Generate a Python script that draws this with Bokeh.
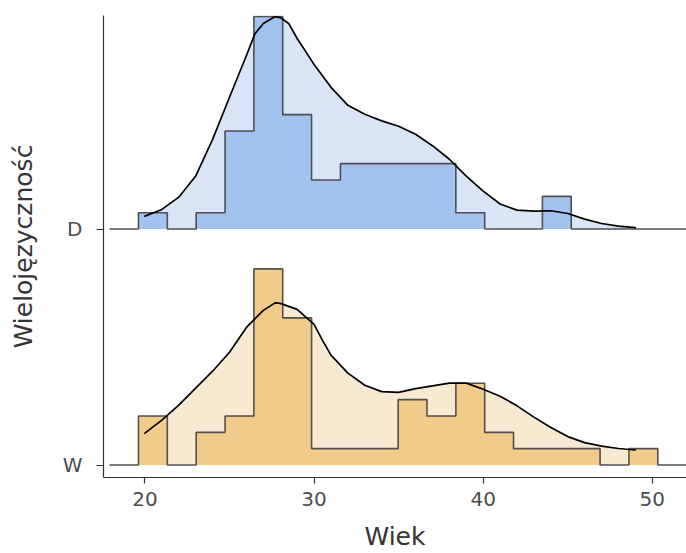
from bokeh.plotting import figure
from bokeh.models import FixedTicker, Range1d
from bokeh.embed import file_html
from bokeh.resources import INLINE

# ---- data ----
groups = ["W", "D"]
x_ticks = [20, 30, 40, 50]

bin_edges = [19.618, 21.324, 23.030, 24.736, 26.441, 28.147, 29.853, 31.559,
             33.265, 34.971, 36.677, 38.383, 40.089, 41.794, 43.500, 45.206,
             46.912, 48.618, 50.324]
pad_left = 17.912
pad_right = 52.030

counts_D = [1, 0, 1, 6, 13, 7, 3, 4, 4, 4, 4, 1, 0, 0, 2, 0, 0, 0]
counts_W = [3, 0, 2, 3, 12, 9, 1, 1, 1, 4, 3, 5, 2, 1, 1, 1, 0, 1]

dens_x_D = [20, 21, 22, 23, 24, 25, 26, 26.5, 27, 27.7, 28, 28.5, 29, 29.5, 30,
            31, 32, 33, 34, 35, 36, 37, 38, 39, 40, 41, 42, 43, 44, 45, 46, 47, 48, 49]
dens_D = [0.79, 1.20, 1.95, 3.24, 5.49, 8.06, 10.62, 11.94, 12.58, 13.00, 12.94,
          12.58, 11.66, 10.87, 10.07, 8.67, 7.57, 7.02, 6.62, 6.29, 5.80, 5.10,
          4.27, 3.24, 2.32, 1.53, 1.16, 1.10, 1.12, 0.95, 0.61, 0.34, 0.18, 0.09]

dens_x_W = [20, 21, 22, 23, 24, 25, 26, 27, 27.7, 28, 29, 30, 30.5, 31, 32, 33,
            34, 35, 36, 37, 38, 39, 40, 41, 42, 43, 44, 45, 46, 47, 48, 49]
dens_W = [1.95, 2.75, 3.66, 4.70, 5.74, 6.90, 8.42, 9.46, 9.92, 9.89, 9.52, 8.61,
          7.63, 6.72, 5.62, 4.88, 4.49, 4.44, 4.67, 4.84, 5.01, 5.01, 4.64, 4.21,
          3.62, 2.93, 2.29, 1.74, 1.37, 1.16, 1.01, 0.92]

SCALE = 0.06926  # ridge height per count, relative to ridge spacing

p = figure(width=686, height=553,
           x_range=Range1d(17.55, 52.02), y_range=Range1d(-0.0529, 1.9049),
           output_backend="svg", toolbar_location=None,
           min_border_left=103, min_border_right=0,
           min_border_top=15, min_border_bottom=75)
p.xgrid.visible = False
p.ygrid.visible = False
p.outline_line_color = None
p.background_fill_color = "white"

ridges = [
    (1, counts_D, dens_x_D, dens_D, "#d9e5f7", "#a4c2f0"),
    (0, counts_W, dens_x_W, dens_W, "#f8ead2", "#f0cb8a"),
]
for base, counts, dx, dy, light, dark in ridges:
    top_d = [base + v * SCALE for v in dy]
    p.varea(x=dx, y1=[base] * len(dx), y2=top_d, fill_color=light, fill_alpha=1)
    hist_top = [base + c * SCALE for c in counts] + [base + counts[-1] * SCALE]
    p.varea_step(x=bin_edges, y1=[base] * len(bin_edges), y2=hist_top,
                 step_mode="after", fill_color=dark, fill_alpha=1)
    sx = [pad_left] + bin_edges + [pad_right]
    sy = [base] + [base + c * SCALE for c in counts] + [base, base]
    p.step(x=sx, y=sy, mode="after", line_color="#404040", line_width=1.6,
           line_alpha=0.9)
    p.line(x=dx, y=top_d, line_color="black", line_width=1.7,
           line_join="round", line_cap="round")

for ax in (p.xaxis[0], p.yaxis[0]):
    ax.axis_line_color = "#333333"
    ax.axis_line_width = 1.2
    ax.major_tick_line_color = "#333333"
    ax.major_tick_line_width = 1.2
    ax.major_tick_in = 0
    ax.minor_tick_in = 0
    ax.minor_tick_out = 0
    ax.major_label_text_font = "DejaVu Sans"
    ax.major_label_text_font_size = "20px"
    ax.major_label_text_color = "#4d4d4d"
    ax.axis_label_text_font = "DejaVu Sans"
    ax.axis_label_text_font_size = "25px"
    ax.axis_label_text_font_style = "normal"
    ax.axis_label_text_color = "#333333"

p.xaxis.ticker = FixedTicker(ticks=x_ticks)
p.xaxis.axis_label = "Wiek"
p.xaxis.major_tick_out = 6
p.xaxis.major_label_standoff = 8
p.xaxis.axis_label_standoff = 13

p.yaxis.ticker = FixedTicker(ticks=[0, 1])
p.yaxis.major_label_overrides = {0: groups[0], 1: groups[1]}
p.yaxis.axis_label = "Wielojęzyczność"
p.yaxis.major_tick_out = 7
p.yaxis.major_label_standoff = 14
p.yaxis.axis_label_standoff = 22

open("out.html", "w").write(file_html(p, INLINE))
